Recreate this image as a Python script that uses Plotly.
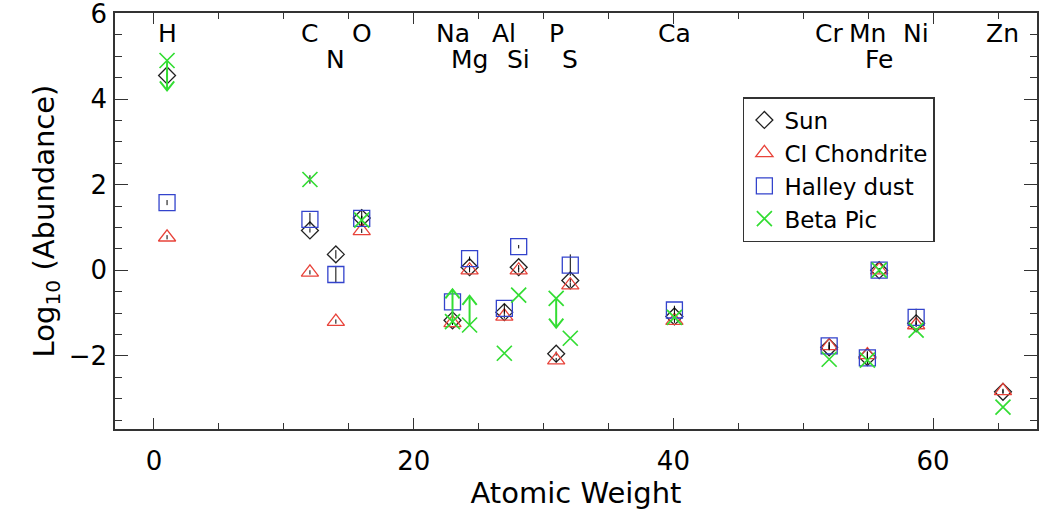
import plotly.graph_objects as go

# ---------------- data ----------------
elements = ["H", "C", "N", "O", "Na", "Mg", "Al", "Si", "P", "S", "Ca", "Cr", "Mn", "Fe", "Ni", "Zn"]
atomic_weight = [1.008, 12.011, 14.007, 15.999, 22.990, 24.305, 26.982, 28.086, 30.974, 32.06,
                 40.078, 51.996, 54.938, 55.845, 58.693, 65.38]
label_row = [1, 1, 2, 1, 1, 2, 1, 2, 1, 2, 1, 1, 1, 2, 1, 1]

sun = [4.55, 0.93, 0.37, 1.22, -1.17, 0.07, -0.98, 0.07, -1.95, -0.24, -1.08, -1.80, -2.03, 0.0, -1.24, -2.84]
sun_err = [0.05, 0.05, 0.10, 0.05, 0.05, 0.05, 0.05, 0.05, 0.05, 0.05, 0.05, 0.05, 0.08, 0.05, 0.05, 0.05]

ci = [0.77, -0.05, -1.20, 0.92, -1.23, 0.0, -1.08, 0.0, -2.10, -0.35, -1.18, -1.77, -1.98, 0.0, -1.28, -2.82]
ci_err = [0.05, 0.05, 0.05, 0.05, 0.05, 0.05, 0.05, 0.05, 0.05, 0.05, 0.05, 0.08, 0.08, 0.05, 0.05, 0.05]

halley = [1.58, 1.19, -0.10, 1.21, -0.74, 0.27, -0.89, 0.55, None, 0.12, -0.93, -1.77, -2.05, 0.0, -1.10, None]
halley_err = [0.06, 0.15, 0.20, 0.20, 0.10, 0.05, 0.10, 0.04, 0, 0.25, 0.10, 0.10, 0.15, 0.05, 0.20, 0]

beta_pic = [4.90, 2.12, None, 1.17, -1.20, -1.28, -1.94, -0.58, -0.66, -1.59, -1.10, -2.08, -2.10, 0.0, -1.40, -3.20]
beta_pic_err = [0, 0.10, 0, 0.10, 0, 0, 0, 0, 0, 0, 0, 0, 0, 0, 0, 0]

# Beta Pic limits: arrow from measured value to tip
limit_elements = ["H", "Na", "Mg", "P"]
limit_tip = [4.20, -0.45, -0.60, -1.34]

x_ticks = [0, 20, 40, 60]
y_ticks = [-2, 0, 2, 4, 6]
y_ticktext = ["\u22122", "0", "2", "4", "6"]

# ---------------- styling ----------------
FONT = "DejaVu Sans"
BLACK = "#222222"
RED = "#e8433a"
BLUE = "#3343cc"
GREEN = "#33dd33"
AXC = "#333333"

fig = go.Figure()


def err(arr):
    return dict(type="data", array=arr, visible=True, color="black", thickness=1, width=0)


fig.add_trace(go.Scatter(
    x=atomic_weight, y=sun, mode="markers", name="Sun",
    marker=dict(symbol="diamond-open", size=13, color=BLACK, line=dict(width=1.3, color=BLACK)),
    error_y=err(sun_err)))
fig.add_trace(go.Scatter(
    x=atomic_weight, y=ci, mode="markers", name="CI Chondrite",
    marker=dict(symbol="triangle-up-open", size=15, color=RED, line=dict(width=1.3, color=RED)),
    error_y=err(ci_err)))
fig.add_trace(go.Scatter(
    x=atomic_weight, y=halley, mode="markers", name="Halley dust",
    marker=dict(symbol="square-open", size=16, color=BLUE, line=dict(width=1.3, color=BLUE)),
    error_y=err(halley_err)))
fig.add_trace(go.Scatter(
    x=atomic_weight, y=beta_pic, mode="markers", name="Beta Pic",
    marker=dict(symbol="x-thin-open", size=15, color=GREEN, line=dict(width=1.7, color=GREEN)),
    error_y=err(beta_pic_err)))

# limit arrows (built from data)
ax_, ay_ = [], []
dx, dy = 0.55, 0.21
for el, tip in zip(limit_elements, limit_tip):
    i = elements.index(el)
    xv, y0 = atomic_weight[i], beta_pic[i]
    s = 1 if tip > y0 else -1
    ax_ += [xv, xv, None, xv - dx, xv, xv + dx, None]
    ay_ += [y0, tip, None, tip - s * dy, tip, tip - s * dy, None]
fig.add_trace(go.Scatter(x=ax_, y=ay_, mode="lines", showlegend=False, hoverinfo="skip",
                         line=dict(color=GREEN, width=2)))

# element labels
row_y = {1: 5.53, 2: 4.93}
for el, xv, r in zip(elements, atomic_weight, label_row):
    fig.add_annotation(x=xv, y=row_y[r], xref="x", yref="y", text=el, showarrow=False,
                       xanchor="center", yanchor="middle",
                       font=dict(family=FONT, size=25, color="black"))

axis_common = dict(
    showline=True, linecolor=AXC, linewidth=1.5, mirror="ticks",
    ticks="inside", tickcolor=AXC, tickwidth=1.3,
    showgrid=False, zeroline=False, automargin=False,
    ticklabeloverflow="allow",
    tickfont=dict(family=FONT, size=26, color="black"),
)

fig.update_xaxes(range=[-3, 68], tickvals=x_ticks, ticklen=11,
                 minor=dict(ticks="inside", dtick=5, tick0=0, ticklen=6, tickcolor=AXC, tickwidth=1.3),
                 ticklabelstandoff=8,
                 title=dict(text="Atomic Weight", font=dict(family=FONT, size=29, color="black"), standoff=2),
                 **axis_common)
fig.update_yaxes(range=[-3.71, 6.01], tickvals=y_ticks, ticktext=y_ticktext, ticklen=13,
                 minor=dict(ticks="inside", dtick=0.5, tick0=0, ticklen=7, tickcolor=AXC, tickwidth=1.3),
                 ticklabelstandoff=1,
                 title=dict(text="Log<sub>10</sub> (Abundance)", font=dict(family=FONT, size=29, color="black"),
                            standoff=6),
                 **axis_common)

fig.update_layout(
    width=1048, height=512,
    margin=dict(l=115, r=11, t=13, b=83),
    plot_bgcolor="white", paper_bgcolor="white",
    font=dict(family=FONT, size=26, color="black"),
    showlegend=True,
    legend=dict(x=0.681, y=0.798, xanchor="left", yanchor="top",
                bgcolor="white", bordercolor=AXC, borderwidth=1.5,
                font=dict(family=FONT, size=23, color="black"),
                tracegroupgap=0, itemwidth=30),
)

# remove the default page margin so the figure fills the 1048x512 window exactly
fig.write_html("out.html", config={"displayModeBar": False},
               post_script="document.body.style.margin='0';")
